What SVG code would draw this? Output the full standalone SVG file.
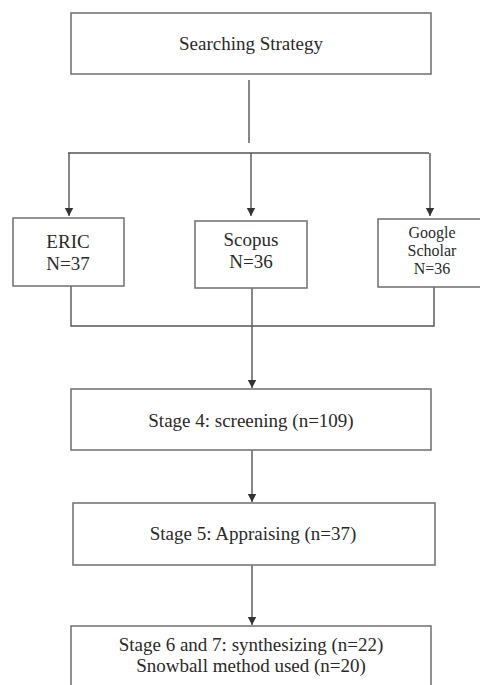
<svg xmlns="http://www.w3.org/2000/svg" width="480" height="685" viewBox="0 0 480 685">
<defs>
<marker id="ah" markerWidth="10" markerHeight="10" refX="8" refY="5" orient="auto" markerUnits="userSpaceOnUse">
<path d="M0,0.8 L8,5 L0,9.2 Z" fill="#333"/>
</marker>
<style>
.box{fill:#fff;stroke:#777;stroke-width:1.6}
.ln{fill:none;stroke:#555;stroke-width:1.4}
text{font-family:"Liberation Serif","Times New Roman",serif;font-size:19px;fill:#2a2a2a;text-anchor:middle}
.sm{font-size:16px}
</style>
</defs>
<rect width="480" height="685" fill="#fff"/>
<g id="connectors">
<path class="ln" d="M249,80 V143"/>
<path class="ln" d="M68,153 H429"/>
<path class="ln" d="M69,153 V216" marker-end="url(#ah)"/>
<path class="ln" d="M251,153 V216" marker-end="url(#ah)"/>
<path class="ln" d="M430,153 V216" marker-end="url(#ah)"/>
<path class="ln" d="M71,286 V326 H434 V287"/>
<path class="ln" d="M252,288 V388" marker-end="url(#ah)"/>
<path class="ln" d="M252,450 V502" marker-end="url(#ah)"/>
<path class="ln" d="M252,565 V625" marker-end="url(#ah)"/>
</g>
<g id="searching">
<rect class="box" x="71" y="13" width="360" height="61"/>
<text x="251" y="50">Searching Strategy</text>
</g>
<g id="eric">
<rect class="box" x="13" y="218" width="111" height="68"/>
<text x="68" y="248">ERIC</text>
<text x="68" y="270">N=37</text>
</g>
<g id="scopus">
<rect class="box" x="195" y="221" width="112" height="67"/>
<text x="251" y="246">Scopus</text>
<text x="251" y="268">N=36</text>
</g>
<g id="google">
<rect class="box" x="378" y="219" width="106" height="68"/>
<text class="sm" x="432" y="238">Google</text>
<text class="sm" x="432" y="256">Scholar</text>
<text class="sm" x="432" y="274">N=36</text>
</g>
<g id="stage4">
<rect class="box" x="71" y="389" width="360" height="61"/>
<text x="251" y="427">Stage 4: screening (n=109)</text>
</g>
<g id="stage5">
<rect class="box" x="73" y="503" width="362" height="62"/>
<text x="253" y="540">Stage 5: Appraising (n=37)</text>
</g>
<g id="stage67">
<rect class="box" x="71" y="626" width="360" height="70"/>
<text x="251" y="651">Stage 6 and 7: synthesizing (n=22)</text>
<text x="251" y="672">Snowball method used (n=20)</text>
</g>
</svg>
